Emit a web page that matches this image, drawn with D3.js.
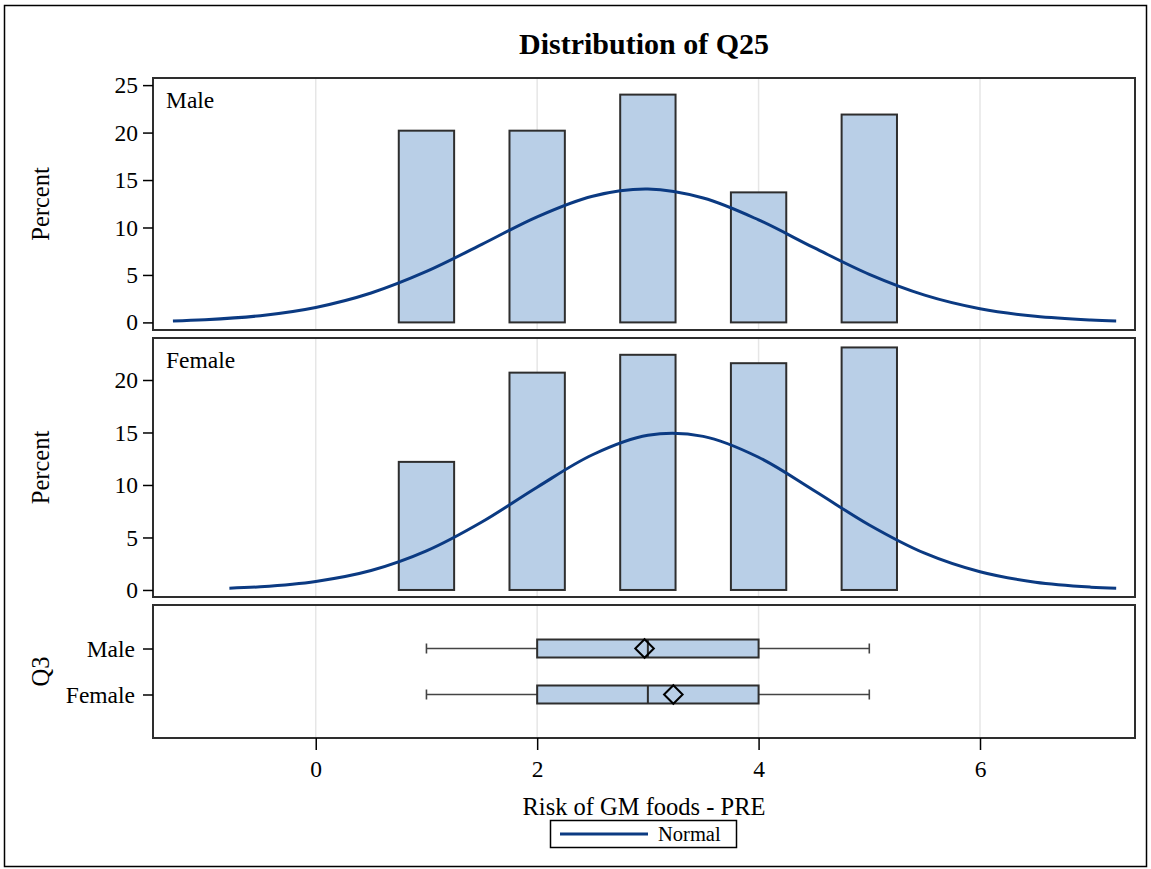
<!DOCTYPE html>
<html>
<head>
<meta charset="utf-8">
<script src="https://cdn.jsdelivr.net/npm/d3@7"></script>
<style>
  body { margin: 0; background: #fff; }
</style>
</head>
<body>
<div id="chart"></div>
<script>
// histogram data (percent per response value)
const categories = [1, 2, 3, 4, 5];
const malePct = [20.2, 20.2, 24.0, 13.7, 21.9];
const femalePct = [12.2, 20.7, 22.4, 21.6, 23.1];

// fitted normal curves
const maleCurveX = [-1.29, -1, -0.5, 0, 0.5, 1, 1.5, 2, 2.5, 3, 3.5, 4, 4.5, 5, 5.5, 6, 6.5, 7, 7.23];
const maleCurveY = [0.16, 0.28, 0.71, 1.58, 3.10, 5.37, 8.22, 11.13, 13.30, 14.05, 13.10, 10.80, 7.87, 5.06, 2.87, 1.44, 0.64, 0.25, 0.16];
const femaleCurveX = [-0.78, -0.5, 0, 0.5, 1, 1.5, 2, 2.5, 3, 3.5, 4, 4.5, 5, 5.5, 6, 6.5, 7, 7.23];
const femaleCurveY = [0.17, 0.30, 0.81, 1.85, 3.72, 6.47, 9.79, 12.88, 14.73, 14.63, 12.64, 9.48, 6.19, 3.50, 1.73, 0.74, 0.27, 0.17];

// box plot stats
const groups = ["Male", "Female"];
const boxMin = [1, 1];
const boxQ1 = [2, 2];
const boxMedian = [3, 3];
const boxQ3 = [4, 4];
const boxMax = [5, 5];
const boxMean = [2.97, 3.23];

const xTicks = [0, 2, 4, 6];
const topTicks = [0, 5, 10, 15, 20, 25];
const midTicks = [0, 5, 10, 15, 20];

const W = 1151, H = 869;
const left = 153, right = 1135;
const fill = "#b9cfe7", edge = "#2e2e2e", curveColor = "#0b3a82", grid = "#e6e6e6";
const serif = "'Liberation Serif', 'DejaVu Serif', serif";

const svg = d3.select("#chart").append("svg")
    .attr("width", W)
    .attr("height", H)
    .style("font-family", serif);

// outer frame
svg.append("rect")
    .attr("x", 4.5).attr("y", 5.5)
    .attr("width", 1142).attr("height", 861)
    .attr("fill", "none").attr("stroke", "#000").attr("stroke-width", 1.5);

svg.append("text")
    .attr("x", (left + right) / 2)
    .attr("y", 54)
    .attr("text-anchor", "middle")
    .style("font-family", serif)
    .style("font-size", "30px")
    .style("font-weight", "bold")
    .text("Distribution of Q25");

const x = d3.scaleLinear().domain([-1.47, 7.40]).range([left, right]);

const panels = [
    { label: "Male", pct: malePct, cx: maleCurveX, cy: maleCurveY, top: 78, bottom: 330, domain: [-0.8, 25.75], ticks: topTicks },
    { label: "Female", pct: femalePct, cx: femaleCurveX, cy: femaleCurveY, top: 338, bottom: 597, domain: [-0.67, 24.0], ticks: midTicks }
];

function gridLines(top, bottom) {
    svg.append("g").selectAll("line")
        .data(xTicks)
        .enter().append("line")
        .attr("x1", d => x(d)).attr("x2", d => x(d))
        .attr("y1", top).attr("y2", bottom)
        .attr("stroke", grid).attr("stroke-width", 1.5);
}

function frame(top, bottom) {
    svg.append("rect")
        .attr("x", left).attr("y", top)
        .attr("width", right - left).attr("height", bottom - top)
        .attr("fill", "none").attr("stroke", edge).attr("stroke-width", 2);
}

function styleAxis(g) {
    g.select(".domain").remove();
    g.attr("font-family", null);
    g.selectAll("text").style("font-family", serif).style("font-size", "23.5px").attr("fill", "#000");
    g.selectAll("line").attr("stroke", "#000").attr("stroke-width", 1.5);
}

panels.forEach(p => {
    const y = d3.scaleLinear().domain(p.domain).range([p.bottom, p.top]);
    gridLines(p.top, p.bottom);

    svg.append("g").selectAll("rect")
        .data(p.pct)
        .enter().append("rect")
        .attr("x", (d, i) => x(categories[i] - 0.25))
        .attr("width", (d, i) => x(categories[i] + 0.25) - x(categories[i] - 0.25))
        .attr("y", d => y(d))
        .attr("height", d => y(0) - y(d))
        .attr("fill", fill)
        .attr("stroke", edge)
        .attr("stroke-width", 2);

    const line = d3.line()
        .x((d, i) => x(p.cx[i]))
        .y(d => y(d))
        .curve(d3.curveCatmullRom);

    svg.append("path")
        .datum(p.cy)
        .attr("d", line)
        .attr("fill", "none")
        .attr("stroke", curveColor)
        .attr("stroke-width", 3);

    frame(p.top, p.bottom);

    svg.append("g")
        .attr("transform", "translate(" + left + ",0)")
        .call(d3.axisLeft(y).tickValues(p.ticks).tickSize(10).tickPadding(5))
        .call(styleAxis);

    svg.append("text")
        .attr("x", 166)
        .attr("y", p.top + 30)
        .style("font-family", serif)
        .style("font-size", "23.5px")
        .text(p.label);

    svg.append("text")
        .attr("transform", "translate(49," + (p.top + p.bottom) / 2 + ") rotate(-90)")
        .attr("text-anchor", "middle")
        .style("font-family", serif)
        .style("font-size", "24.5px")
        .text("Percent");
});

// box plot panel
const boxTop = 605, boxBottom = 738, boxH = 18;
const yb = d3.scalePoint().domain(groups).range([boxTop, boxBottom]).padding(0.946);

gridLines(boxTop, boxBottom);

const bg = svg.append("g").selectAll("g")
    .data(groups)
    .enter().append("g");

// whiskers
bg.append("line")
    .attr("x1", (d, i) => x(boxMin[i])).attr("x2", (d, i) => x(boxQ1[i]))
    .attr("y1", d => yb(d)).attr("y2", d => yb(d))
    .attr("stroke", "#444").attr("stroke-width", 1.6);
bg.append("line")
    .attr("x1", (d, i) => x(boxQ3[i])).attr("x2", (d, i) => x(boxMax[i]))
    .attr("y1", d => yb(d)).attr("y2", d => yb(d))
    .attr("stroke", "#444").attr("stroke-width", 1.6);
bg.append("line")
    .attr("x1", (d, i) => x(boxMin[i])).attr("x2", (d, i) => x(boxMin[i]))
    .attr("y1", d => yb(d) - 5).attr("y2", d => yb(d) + 5)
    .attr("stroke", "#444").attr("stroke-width", 1.6);
bg.append("line")
    .attr("x1", (d, i) => x(boxMax[i])).attr("x2", (d, i) => x(boxMax[i]))
    .attr("y1", d => yb(d) - 5).attr("y2", d => yb(d) + 5)
    .attr("stroke", "#444").attr("stroke-width", 1.6);

bg.append("rect")
    .attr("x", (d, i) => x(boxQ1[i]))
    .attr("width", (d, i) => x(boxQ3[i]) - x(boxQ1[i]))
    .attr("y", d => yb(d) - boxH / 2)
    .attr("height", boxH)
    .attr("fill", fill).attr("stroke", edge).attr("stroke-width", 2);

bg.append("line")
    .attr("x1", (d, i) => x(boxMedian[i])).attr("x2", (d, i) => x(boxMedian[i]))
    .attr("y1", d => yb(d) - boxH / 2).attr("y2", d => yb(d) + boxH / 2)
    .attr("stroke", edge).attr("stroke-width", 2);

bg.append("path")
    .attr("d", d3.symbol().type(d3.symbolDiamond2).size(220))
    .attr("transform", (d, i) => "translate(" + x(boxMean[i]) + "," + yb(d) + ")")
    .attr("fill", "none").attr("stroke", "#000").attr("stroke-width", 2);

frame(boxTop, boxBottom);

svg.append("g")
    .attr("transform", "translate(" + left + ",0)")
    .call(d3.axisLeft(yb).tickSize(10).tickPadding(8))
    .call(styleAxis);

svg.append("text")
    .attr("transform", "translate(49," + (boxTop + boxBottom) / 2 + ") rotate(-90)")
    .attr("text-anchor", "middle")
    .style("font-family", serif)
    .style("font-size", "24.5px")
    .text("Q3");

svg.append("g")
    .attr("transform", "translate(0," + boxBottom + ")")
    .call(d3.axisBottom(x).tickValues(xTicks).tickSize(12).tickPadding(10))
    .call(styleAxis);

svg.append("text")
    .attr("x", (left + right) / 2)
    .attr("y", 815)
    .attr("text-anchor", "middle")
    .style("font-family", serif)
    .style("font-size", "24.5px")
    .text("Risk of GM foods - PRE");

// legend
svg.append("rect")
    .attr("x", 550.5).attr("y", 820.5)
    .attr("width", 186).attr("height", 27)
    .attr("fill", "none").attr("stroke", "#000").attr("stroke-width", 1.5);
svg.append("line")
    .attr("x1", 560).attr("x2", 648)
    .attr("y1", 834).attr("y2", 834)
    .attr("stroke", curveColor).attr("stroke-width", 3);
svg.append("text")
    .attr("x", 658).attr("y", 841)
    .style("font-family", serif)
    .style("font-size", "20.5px")
    .text("Normal");
</script>
</body>
</html>
